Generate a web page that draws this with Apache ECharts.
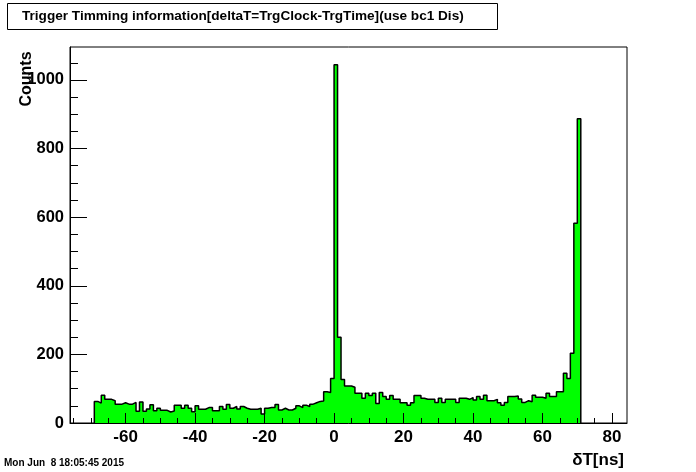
<!DOCTYPE html>
<html>
<head>
<meta charset="utf-8">
<script src="https://cdn.jsdelivr.net/npm/echarts@6/dist/echarts.min.js"></script>
<style>
html,body{margin:0;padding:0;background:#fff;}
#c{width:696px;height:472px;}
</style>
</head>
<body>
<div id="c"></div>
<script>
// ---- data ----
var titleText = 'Trigger Timming information[deltaT=TrgClock-TrgTime](use bc1 Dis)';
var xTitle = '\u03b4T[ns]';
var yTitle = 'Counts';
var dateText = 'Mon Jun  8 18:05:45 2015';
var binLow = -69;      // left edge of first bin (ns)
var binWidth = 1;      // ns
var counts = [
  63,58,81,69,69,65,55,55,59,55,55,60,34,61,34,41,53,36,43,37,37,32,35,52,52,43,52,43,33,50,
  40,40,45,45,36,36,48,40,54,43,48,41,48,43,40,40,40,43,26,43,45,45,54,38,43,38,38,43,50,45,
  52,48,55,59,63,64,91,89,
  130,1044,250,127,108,108,104,87,87,72,87,80,87,57,89,77,69,80,69,69,59,59,52,59,80,80,72,69,69,69,60,72,60,69,69,69,
  60,72,72,69,74,67,77,69,81,65,65,69,59,52,60,77,77,79,70,60,65,62,81,75,75,72,87,77,77,91,91,145,130,203,582,887
];
var xMajorTicks = [-60,-40,-20,0,20,40,60,80];
var xMinorTicks = [-75,-70,-65,-60,-55,-50,-45,-40,-35,-30,-25,-20,-15,-10,-5,0,5,10,15,20,25,30,35,40,45,50,55,60,65,70,75,80];
var yMajorTicks = [0,200,400,600,800,1000];
var yMinorTicks = [50,100,150,200,250,300,350,400,450,500,550,600,650,700,750,800,850,900,950,1000,1050];
var xMin = -76, xMax = 84.3, yMin = 0, yMax = 1096;

// ---- build step outline from bins ----
var pts = [[binLow, 0]];
for (var i = 0; i < counts.length; i++) {
  pts.push([binLow + i * binWidth, counts[i]]);
}
var lastEdge = binLow + counts.length * binWidth;
pts.push([lastEdge, counts[counts.length - 1]]);
pts.push([lastEdge, 0]);

var FONT = '"Liberation Sans", Arial, Helvetica, sans-serif';
var plain = function (v) { return String(v); };
var chart = echarts.init(document.getElementById('c'), null, {renderer: 'canvas'});
var axisCommon = {
  type: 'value', min: xMin, max: xMax, position: 'bottom', z: 10,
  splitLine: {show: false}
};
chart.setOption({
  backgroundColor: '#ffffff',
  animation: false,
  grid: {left: 70, top: 47, width: 557, height: 376, show: true, borderColor: '#000', borderWidth: 1, backgroundColor: '#fff'},
  xAxis: [
    Object.assign({}, axisCommon, {
      axisLine: {show: true, onZero: false, lineStyle: {color: '#000', width: 1}},
      axisTick: {show: true, inside: true, length: 10, customValues: xMajorTicks, lineStyle: {color: '#000', width: 1}},
      axisLabel: {show: true, customValues: xMajorTicks, formatter: plain, margin: 6, color: '#000', fontSize: 17, fontWeight: 'bold', fontFamily: FONT}
    }),
    Object.assign({}, axisCommon, {
      axisLine: {show: false, onZero: false},
      axisTick: {show: true, inside: true, length: 5, customValues: xMinorTicks, lineStyle: {color: '#000', width: 1}},
      axisLabel: {show: false}
    })
  ],
  yAxis: [
    {type: 'value', min: yMin, max: yMax, position: 'left', z: 10, splitLine: {show: false},
      axisLine: {show: true, onZero: false, lineStyle: {color: '#000', width: 1}},
      axisTick: {show: true, inside: true, length: 17, customValues: yMajorTicks, lineStyle: {color: '#000', width: 1}},
      axisLabel: {show: true, customValues: yMajorTicks, formatter: plain, margin: 6, color: '#000', fontSize: 16.5, fontWeight: 'bold', fontFamily: FONT}
    },
    {type: 'value', min: yMin, max: yMax, position: 'left', z: 10, splitLine: {show: false},
      axisLine: {show: false, onZero: false},
      axisTick: {show: true, inside: true, length: 8, customValues: yMinorTicks, lineStyle: {color: '#000', width: 1}},
      axisLabel: {show: false}
    }
  ],
  series: [{
    type: 'line', xAxisIndex: 0, yAxisIndex: 0, step: 'end', symbol: 'none',
    data: pts,
    lineStyle: {color: '#000', width: 1.5},
    areaStyle: {color: '#00ff00', opacity: 1},
    z: 2
  }],
  graphic: [
    {type: 'rect', shape: {x: 7.5, y: 3.5, width: 490, height: 26}, style: {fill: '#fff', stroke: '#000', lineWidth: 1}, z: 20},
    {type: 'text', x: 22, y: 16.5, style: {text: titleText, font: 'bold 13.6px ' + FONT, fill: '#000', textVerticalAlign: 'middle', textAlign: 'left'}, z: 21},
    {type: 'text', x: 27, y: 79, rotation: Math.PI / 2, style: {text: yTitle, font: 'bold 16px ' + FONT, fill: '#000', textAlign: 'center', textVerticalAlign: 'middle'}, z: 21},
    {type: 'text', x: 624, y: 460, style: {text: xTitle, font: 'bold 17px ' + FONT, fill: '#000', textAlign: 'right', textVerticalAlign: 'middle'}, z: 21},
    {type: 'text', x: 4, y: 463, style: {text: dateText, font: 'bold 10px ' + FONT, fill: '#000', textAlign: 'left', textVerticalAlign: 'middle'}, z: 21}
  ]
});
</script>
</body>
</html>
